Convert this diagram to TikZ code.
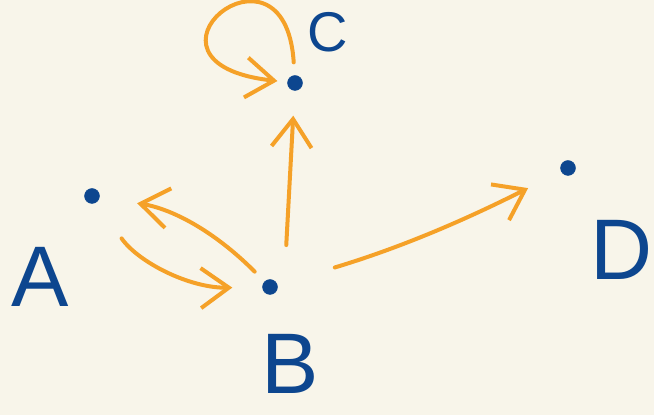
\documentclass[tikz,border=0pt]{standalone}
\usepackage{fontspec}
\setmainfont{Liberation Sans}
\usetikzlibrary{arrows.meta}
\definecolor{paper}{HTML}{F8F5EA}
\definecolor{ink}{HTML}{0D468F}
\definecolor{marker}{HTML}{F5A128}

\begin{document}
\begin{tikzpicture}[x=1pt,y=1pt,
  dot/.style={draw=ink,fill=ink,circle,inner sep=0pt,minimum size=15pt},
  lbl/.style={ink,inner sep=0pt,font=\fontsize{86}{86}\selectfont},
  arr/.style={marker,line width=4pt,line cap=round,
    -{Straight Barb[length=28pt,width=40pt]}}]

  \useasboundingbox (0,0) rectangle (654,415);
  \fill[paper] (0,0) rectangle (654,415);

  % points
  \node[dot] (a) at (92,219) {};
  \node[dot] (b) at (270,128) {};
  \node[dot] (c) at (295,332) {};
  \node[dot] (d) at (568,247) {};

  % letters
  \node[lbl] (la) at (40,138) {A};
  \node[lbl,font=\fontsize{86}{86}\selectfont] (lb) at (290,51) {B};
  \node[lbl,font=\fontsize{56}{56}\selectfont] (lc) at (328,383) {C};
  \node[lbl] (ld) at (622,165) {D};

  % arrows
  \draw[arr,shorten <=44pt,shorten >=30pt] (a) to[bend right=28] (b);
  \draw[arr,shorten <=14pt,shorten >=38pt] (b) to[bend right=18] (a);
  \draw[arr,shorten <=42pt,shorten >=25pt] ([xshift=14pt]b.center) -- (c);
  \draw[arr,shorten <=13pt,shorten >=10pt] (c) .. controls +(-10,160) and +(-180,20) .. (c);
  \draw[arr,shorten <=60pt,shorten >=37pt] (b) to[bend right=5] (d);

\end{tikzpicture}
\end{document}
